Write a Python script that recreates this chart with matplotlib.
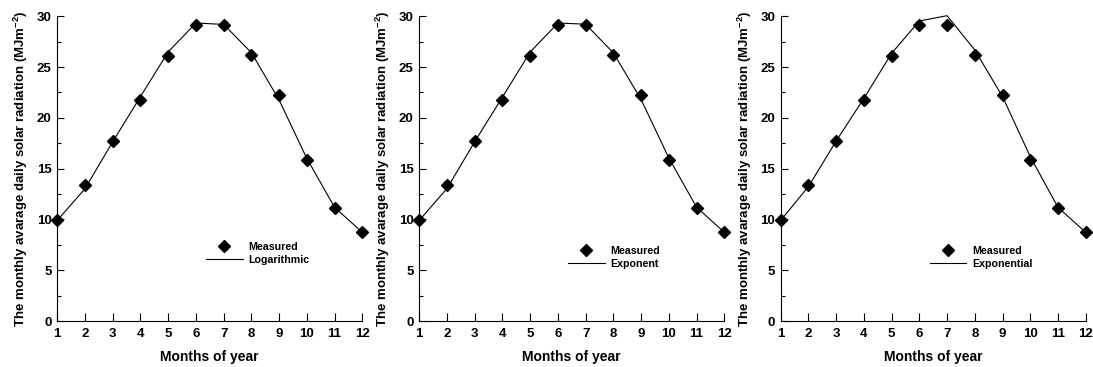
import matplotlib
matplotlib.use('Agg')
import numpy as np
import matplotlib.pyplot as plt
from matplotlib.ticker import MultipleLocator

plt.rcParams['font.family'] = ['Liberation Sans', 'DejaVu Sans']
plt.rcParams['font.weight'] = 'bold'
plt.rcParams['mathtext.fontset'] = 'custom'
plt.rcParams['mathtext.rm'] = 'Liberation Sans:bold'
plt.rcParams['mathtext.bf'] = 'Liberation Sans:bold'
plt.rcParams['mathtext.default'] = 'rm'

months = np.arange(1, 13)
measured = [9.91, 13.42, 17.72, 21.73, 26.09, 29.11, 29.11, 26.22, 22.25, 15.88, 11.13, 8.73]
logarithmic = [9.91, 13.03, 17.66, 22.09, 26.50, 29.34, 29.20, 26.42, 21.76, 16.00, 11.19, 8.73]
exponent = [9.91, 13.05, 17.66, 22.05, 26.48, 29.34, 29.22, 26.40, 21.80, 16.05, 11.20, 8.73]
exponential = [9.91, 13.23, 17.72, 21.92, 26.35, 29.54, 30.06, 26.68, 22.09, 16.18, 11.19, 8.73]

models = [('Logarithmic', logarithmic), ('Exponent', exponent), ('Exponential', exponential)]
ylabel = r'The monthly avarage daily solar radiation (MJm$^{-2}$)'

W, H = 1093, 367
fig = plt.figure(figsize=(W / 100, H / 100), dpi=100)

lefts = [57.3, 419.3, 780.7]
legend_tops = [242, 246, 246]
ax_w, ax_top, ax_bot = 305, 16.3, 321

for left, (name, fit), ltop in zip(lefts, models, legend_tops):
    ax = fig.add_axes([left / W, (H - ax_bot) / H, ax_w / W, (ax_bot - ax_top) / H])
    ax.plot(months, measured, linestyle='none', marker='D', color='black',
            markersize=5.8, label='Measured', clip_on=False, zorder=3)
    ax.plot(months, fit, color='black', linewidth=0.8, label=name, clip_on=False)

    ax.set_xlim(1, 12)
    ax.set_ylim(0, 30)
    ax.set_xticks(months)
    ax.yaxis.set_major_locator(MultipleLocator(5))
    ax.yaxis.set_minor_locator(MultipleLocator(2.5))
    ax.tick_params(axis='x', direction='in', length=6, width=0.8, pad=5, labelsize=9.5)
    ax.tick_params(axis='y', which='major', direction='in', length=5, width=0.8, pad=4, labelsize=9.5)
    ax.tick_params(axis='y', which='minor', direction='in', length=3, width=0.8)
    for lab in ax.get_xticklabels() + ax.get_yticklabels():
        lab.set_fontweight('bold')
    ax.spines['top'].set_visible(False)
    ax.spines['right'].set_visible(False)
    ax.spines['left'].set_linewidth(0.8)
    ax.spines['bottom'].set_linewidth(0.8)

    ax.set_xlabel('Months of year', fontsize=10, fontweight='bold', labelpad=7)
    ax.set_ylabel(ylabel, fontsize=9.5, fontweight='bold')
    ax.yaxis.set_label_coords(-0.088, 0.5)

    ax.legend(loc='upper left',
              bbox_to_anchor=(0.488, (ax_bot - ltop) / (ax_bot - ax_top)),
              frameon=False, prop={'size': 7.7, 'weight': 'bold'},
              handlelength=3.4, handletextpad=0.55, labelspacing=0.27,
              borderpad=0, borderaxespad=0)

fig.savefig('out.png', dpi=100)
